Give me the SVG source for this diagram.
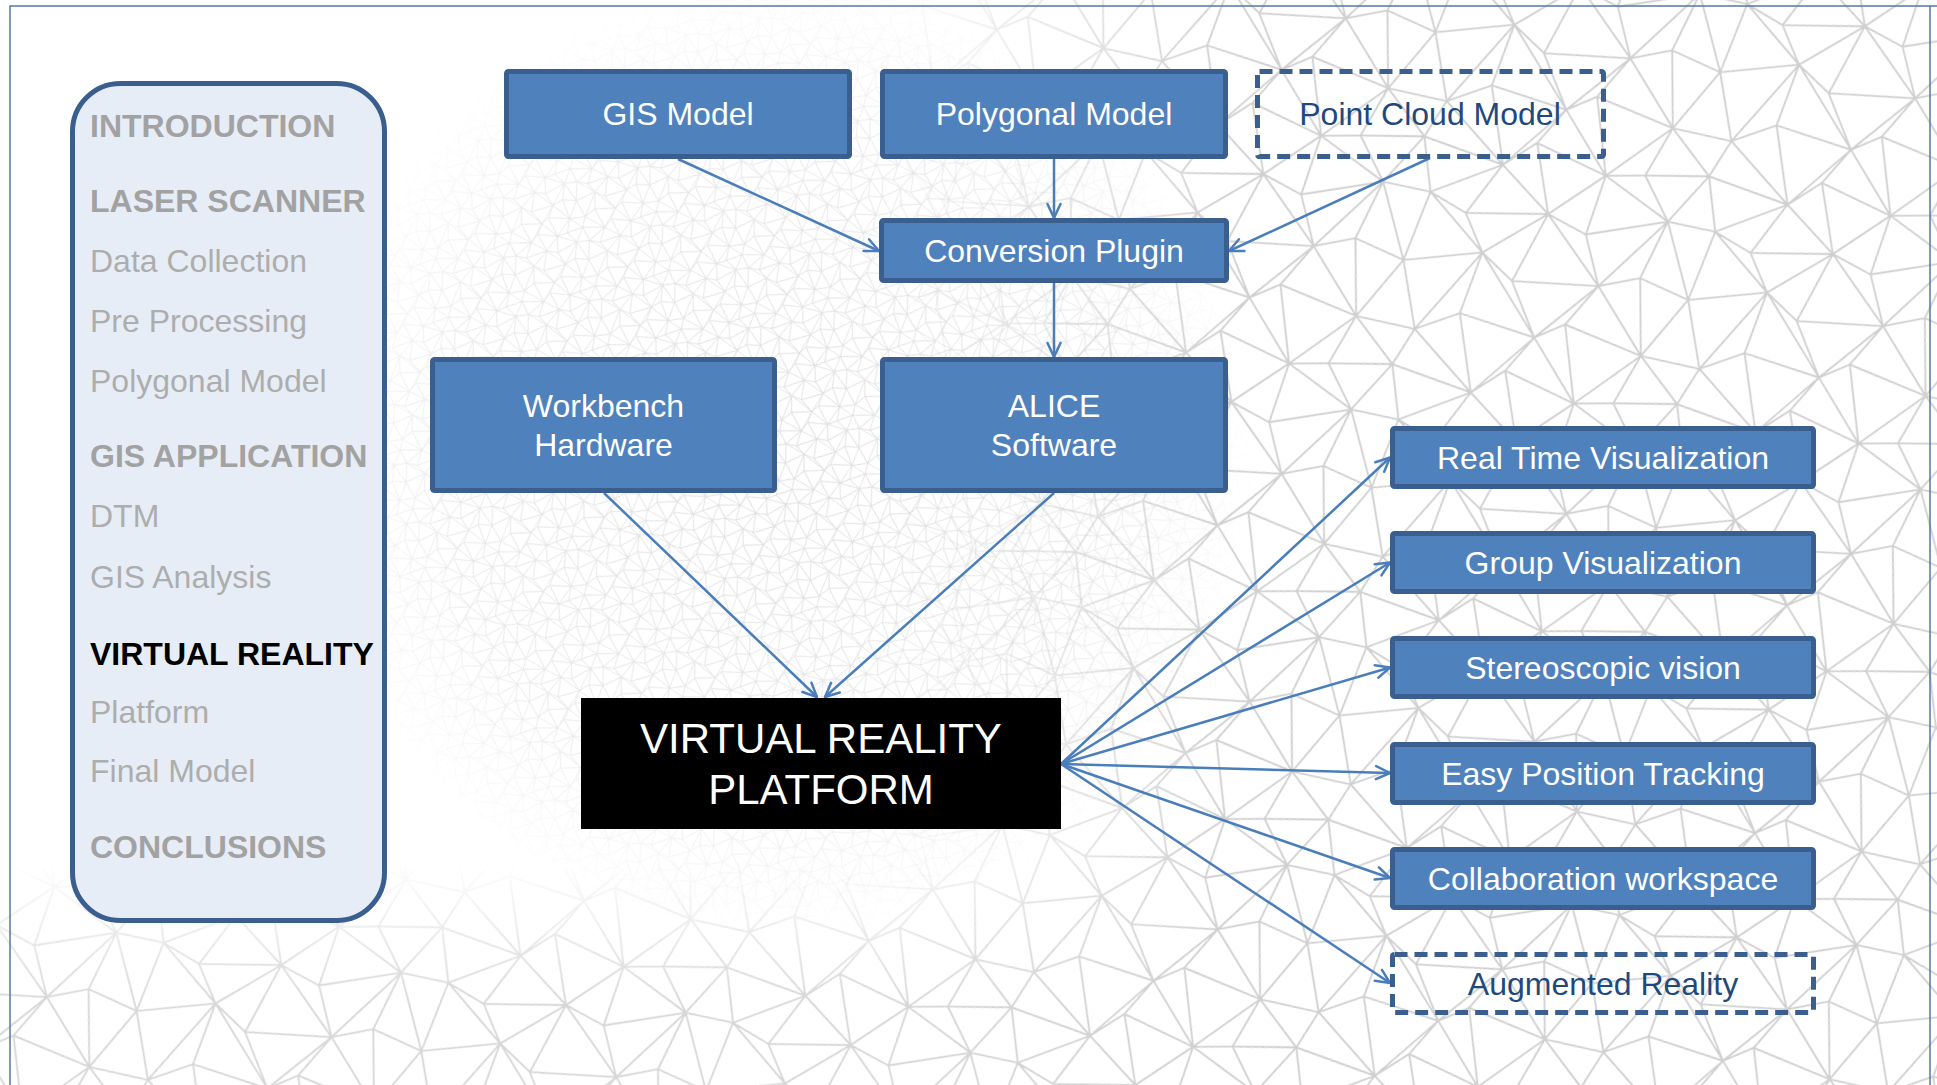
<svg xmlns="http://www.w3.org/2000/svg" xmlns:xlink="http://www.w3.org/1999/xlink" width="1937" height="1085" viewBox="0 0 1937 1085">
  <defs>
    <style>
      .box { fill: #4F81BD; stroke: #3A5F8F; stroke-width: 5; }
      .dash { fill: none; stroke: #3A5F8F; stroke-width: 5; stroke-dasharray: 13 7; }
      .lbl { font-family: "Liberation Sans", Arial, sans-serif; font-size: 32px; fill: #FFFFFF; text-anchor: middle; }
      .lbl-dark { fill: #1F497D; }
      .big { font-size: 42px; }
      .conn { fill: none; stroke: #4A7EBB; stroke-width: 2.5; marker-end: url(#arrow); }
      .menu { font-family: "Liberation Sans", Arial, sans-serif; font-size: 32px; }
      .head { font-weight: bold; fill: #A2A2A2; }
      .sub { fill: #ADADAD; }
      .cur { font-weight: bold; fill: #000000; }
    </style>

    <!-- open V arrowhead -->
    <marker id="arrow" markerUnits="userSpaceOnUse" markerWidth="20" markerHeight="20"
            viewBox="0 0 20 20" refX="17" refY="10" orient="auto">
      <path d="M3,3.5 L17,10 L3,16.5" fill="none" stroke="#4A7EBB" stroke-width="2.5" stroke-linecap="round" stroke-linejoin="round"/>
    </marker>

    <!-- one tile of a jittered triangle mesh (250 x 200, wraps) -->
    <path id="mesh" fill="none" d="
      M5,-8 L38,6 L109,-3 L144,10 L213,-11 L255,-8
      M-10,54 L57,38 L86,59 L161,53 L196,41 L240,54
      M8,112 L45,93 L112,105 L137,90 L206,108 L258,112
      M-7,145 L64,160 L91,137 L154,157 L188,152 L243,145
      M5,-8 L-10,54 L8,112 L-7,145 L5,192
      M38,6 L57,38 L45,93 L64,160 L38,206
      M109,-3 L86,59 L112,105 L91,137 L109,197
      M144,10 L161,53 L137,90 L154,157 L144,210
      M213,-11 L196,41 L206,108 L188,152 L213,189
      M5,-8 L57,38 M109,-3 L57,38 M109,-3 L161,53 M213,-11 L161,53 M213,-11 L240,54
      M57,38 L8,112 M57,38 L112,105 M161,53 L112,105 M161,53 L206,108 M240,54 L206,108
      M8,112 L64,160 M112,105 L64,160 M112,105 L154,157 M206,108 L154,157 M206,108 L243,145
      M64,160 L5,192 M64,160 L109,197 M154,157 L109,197 M154,157 L213,189 M243,145 L213,189"/>

    <pattern id="meshCoarse" patternUnits="userSpaceOnUse" width="250" height="200" patternTransform="rotate(8) scale(1.15)">
      <g stroke="#D0D0D0" stroke-width="1.6">
        <use xlink:href="#mesh"/>
        <use xlink:href="#mesh" x="-250"/>
        <use xlink:href="#mesh" x="250"/>
        <use xlink:href="#mesh" y="-200"/>
        <use xlink:href="#mesh" y="200"/>
        <use xlink:href="#mesh" x="-250" y="-200"/>
        <use xlink:href="#mesh" x="250" y="-200"/>
        <use xlink:href="#mesh" x="-250" y="200"/>
        <use xlink:href="#mesh" x="250" y="200"/>
      </g>
    </pattern>

    <pattern id="meshFine" patternUnits="userSpaceOnUse" width="250" height="200" patternTransform="rotate(-12) scale(0.3)">
      <g stroke="#D6D6D6" stroke-width="3">
        <use xlink:href="#mesh"/>
        <use xlink:href="#mesh" x="-250"/>
        <use xlink:href="#mesh" x="250"/>
        <use xlink:href="#mesh" y="-200"/>
        <use xlink:href="#mesh" y="200"/>
        <use xlink:href="#mesh" x="-250" y="-200"/>
        <use xlink:href="#mesh" x="250" y="-200"/>
        <use xlink:href="#mesh" x="-250" y="200"/>
        <use xlink:href="#mesh" x="250" y="200"/>
      </g>
    </pattern>

    <linearGradient id="fadeX" gradientUnits="userSpaceOnUse" x1="880" y1="0" x2="1220" y2="0">
      <stop offset="0" stop-color="#fff" stop-opacity="0"/>
      <stop offset="1" stop-color="#fff" stop-opacity="1"/>
    </linearGradient>
    <linearGradient id="fadeY" gradientUnits="userSpaceOnUse" x1="0" y1="860" x2="0" y2="1000">
      <stop offset="0" stop-color="#fff" stop-opacity="0"/>
      <stop offset="1" stop-color="#fff" stop-opacity="0.85"/>
    </linearGradient>
    <radialGradient id="fadeC" gradientUnits="userSpaceOnUse" cx="780" cy="460" r="480">
      <stop offset="0" stop-color="#fff" stop-opacity="0.9"/>
      <stop offset="0.7" stop-color="#fff" stop-opacity="0.6"/>
      <stop offset="1" stop-color="#fff" stop-opacity="0"/>
    </radialGradient>

    <mask id="coarseMask" maskUnits="userSpaceOnUse" x="0" y="0" width="1937" height="1085">
      <rect x="0" y="0" width="1937" height="1085" fill="url(#fadeX)"/>
      <rect x="0" y="0" width="1937" height="1085" fill="url(#fadeY)"/>
    </mask>
    <mask id="fineMask" maskUnits="userSpaceOnUse" x="0" y="0" width="1937" height="1085">
      <rect x="0" y="0" width="1937" height="1085" fill="url(#fadeC)"/>
    </mask>
  </defs>

  <!-- page background with mesh texture -->
  <g id="background">
    <rect x="0" y="0" width="1937" height="1085" fill="#FFFFFF"/>
    <rect x="0" y="0" width="1937" height="1085" fill="url(#meshFine)" mask="url(#fineMask)"/>
    <rect x="0" y="0" width="1937" height="1085" fill="url(#meshCoarse)" mask="url(#coarseMask)"/>
    <rect x="10" y="6" width="1920" height="1100" fill="none" stroke="#5577A8" stroke-width="1.5"/>
    <line x1="1930" y1="6" x2="1937" y2="6" stroke="#5577A8" stroke-width="1.5"/>
  </g>

  <!-- section navigation panel -->
  <g id="nav">
    <rect x="72.5" y="83.5" width="312" height="837" rx="48" ry="48" fill="#E5ECF5" fill-opacity="0.92" stroke="#3A5F8F" stroke-width="5"/>
    <g class="menu">
      <text class="head" x="90" y="137">INTRODUCTION</text>
      <text class="head" x="90" y="212">LASER SCANNER</text>
      <text class="sub" x="90" y="272">Data Collection</text>
      <text class="sub" x="90" y="332">Pre Processing</text>
      <text class="sub" x="90" y="392">Polygonal Model</text>
      <text class="head" x="90" y="467">GIS APPLICATION</text>
      <text class="sub" x="90" y="527">DTM</text>
      <text class="sub" x="90" y="588">GIS Analysis</text>
      <text class="cur" x="90" y="665">VIRTUAL REALITY</text>
      <text class="sub" x="90" y="723">Platform</text>
      <text class="sub" x="90" y="782">Final Model</text>
      <text class="head" x="90" y="858">CONCLUSIONS</text>
    </g>
  </g>

  <!-- connectors -->
  <g id="connectors">
    <line class="conn" x1="678" y1="159" x2="879" y2="251"/>
    <line class="conn" x1="1054" y1="159" x2="1054" y2="218"/>
    <line class="conn" x1="1430" y1="158" x2="1229" y2="251"/>
    <line class="conn" x1="1054" y1="283" x2="1054" y2="357"/>
    <line class="conn" x1="604" y1="493" x2="817" y2="697"/>
    <line class="conn" x1="1054" y1="493" x2="825" y2="697"/>
    <line class="conn" x1="1061" y1="764" x2="1390" y2="457.5"/>
    <line class="conn" x1="1061" y1="764" x2="1390" y2="562.5"/>
    <line class="conn" x1="1061" y1="764" x2="1390" y2="667.5"/>
    <line class="conn" x1="1061" y1="764" x2="1390" y2="773"/>
    <line class="conn" x1="1061" y1="764" x2="1390" y2="878"/>
    <line class="conn" x1="1061" y1="764" x2="1390" y2="983"/>
  </g>

  <!-- source models -->
  <g id="gis-model">
    <rect class="box" x="506.5" y="71.5" width="343" height="85" rx="2"/>
    <text class="lbl" x="678" y="125">GIS Model</text>
  </g>
  <g id="polygonal-model">
    <rect class="box" x="882.5" y="71.5" width="343" height="85" rx="2"/>
    <text class="lbl" x="1054" y="125">Polygonal Model</text>
  </g>
  <g id="point-cloud-model">
    <rect class="dash" x="1257.5" y="71.5" width="346" height="85" rx="2"/>
    <text class="lbl lbl-dark" x="1430" y="125">Point Cloud Model</text>
  </g>

  <g id="conversion-plugin">
    <rect class="box" x="881.5" y="220.5" width="345" height="60" rx="2"/>
    <text class="lbl" x="1054" y="262">Conversion Plugin</text>
  </g>

  <g id="workbench-hardware">
    <rect class="box" x="432.5" y="359.5" width="342" height="131" rx="2"/>
    <text class="lbl" x="603.5" y="417">Workbench</text>
    <text class="lbl" x="603.5" y="456">Hardware</text>
  </g>
  <g id="alice-software">
    <rect class="box" x="882.5" y="359.5" width="343" height="131" rx="2"/>
    <text class="lbl" x="1054" y="417">ALICE</text>
    <text class="lbl" x="1054" y="456">Software</text>
  </g>

  <g id="vr-platform">
    <rect x="581" y="698" width="480" height="131" fill="#000000"/>
    <text class="lbl big" x="821" y="753">VIRTUAL REALITY</text>
    <text class="lbl big" x="821" y="804">PLATFORM</text>
  </g>

  <!-- platform features -->
  <g id="real-time-visualization">
    <rect class="box" x="1392.5" y="428.5" width="421" height="58" rx="2"/>
    <text class="lbl" x="1603" y="469">Real Time Visualization</text>
  </g>
  <g id="group-visualization">
    <rect class="box" x="1392.5" y="533.5" width="421" height="58" rx="2"/>
    <text class="lbl" x="1603" y="574">Group Visualization</text>
  </g>
  <g id="stereoscopic-vision">
    <rect class="box" x="1392.5" y="638.5" width="421" height="58" rx="2"/>
    <text class="lbl" x="1603" y="679">Stereoscopic vision</text>
  </g>
  <g id="easy-position-tracking">
    <rect class="box" x="1392.5" y="744.5" width="421" height="58" rx="2"/>
    <text class="lbl" x="1603" y="785">Easy Position Tracking</text>
  </g>
  <g id="collaboration-workspace">
    <rect class="box" x="1392.5" y="849.5" width="421" height="58" rx="2"/>
    <text class="lbl" x="1603" y="890">Collaboration workspace</text>
  </g>
  <g id="augmented-reality">
    <rect class="dash" x="1392.5" y="954.5" width="421" height="58" rx="2"/>
    <text class="lbl lbl-dark" x="1603" y="995">Augmented Reality</text>
  </g>
</svg>
